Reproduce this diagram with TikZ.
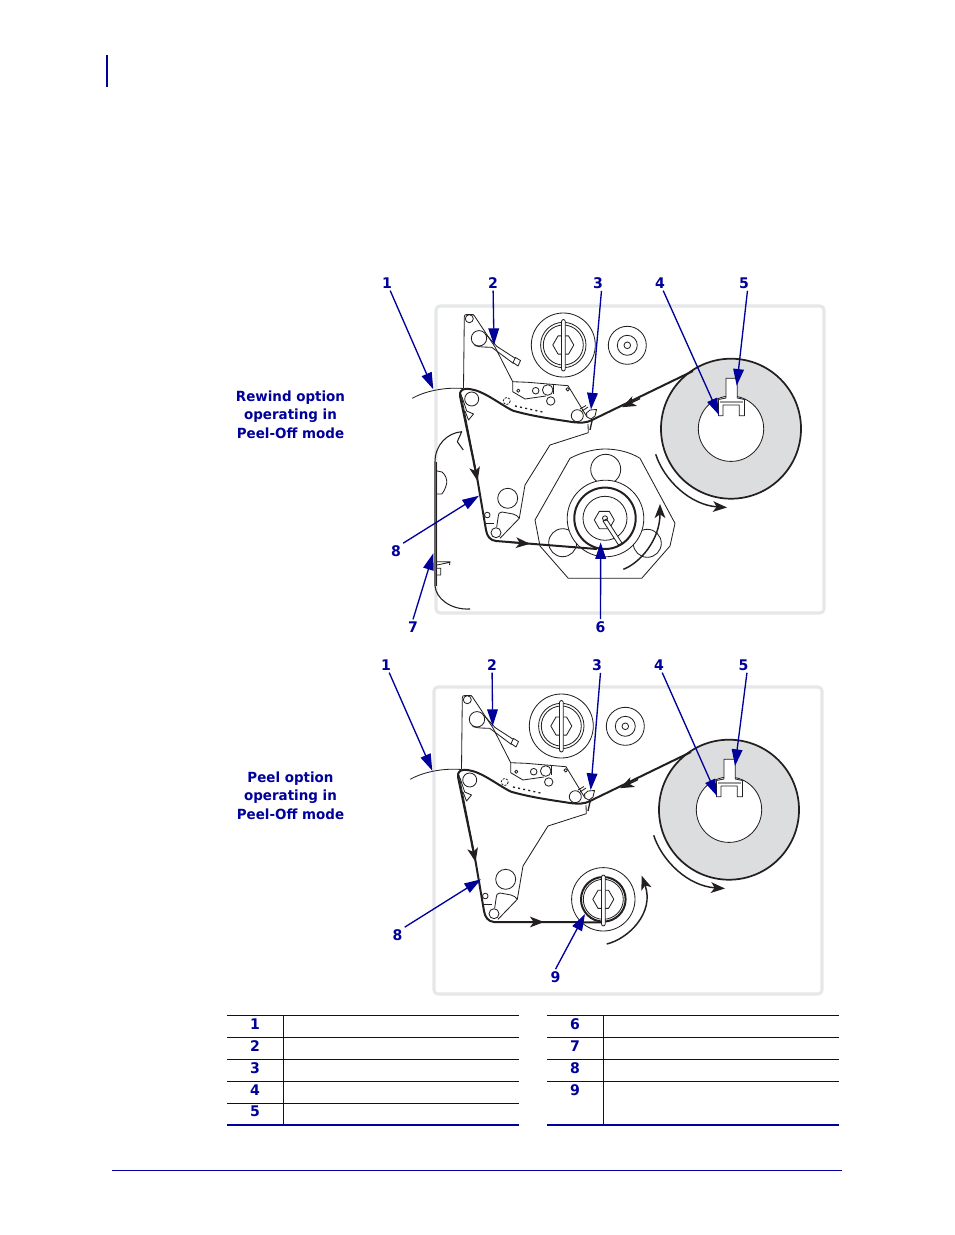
\documentclass[tikz,border=0pt]{standalone}
\usepackage{fontspec}
\setmainfont{DejaVu Sans}
\newfontfamily\lblfont[FakeStretch=0.96]{DejaVu Sans Bold}
\usetikzlibrary{arrows.meta}
\definecolor{zblue}{HTML}{00009A}
\definecolor{zframe}{HTML}{E6E7E8}
\definecolor{zroll}{HTML}{DCDDDF}
\definecolor{zink}{HTML}{231F20}
\tikzset{
  thinln/.style={draw=zink,line width=.62pt,line join=round},
  webln/.style={draw=zink,line width=1.5pt,line join=round},
  webtip/.style={draw=zink,line width=1.1pt,-{Stealth[length=10.5pt,width=8pt,inset=2.8pt]}},
  lead/.style={draw=zblue,line width=1pt,-{Stealth[length=12.5pt,width=8pt,inset=0pt]}},
  num/.style={text=zblue,font=\lblfont\fontsize{11}{12}\selectfont,inner sep=1.5pt},
  cap3/.style={text=zblue,font=\lblfont\fontsize{10.5}{13.8}\selectfont,align=center,inner sep=0pt},
  tbl/.style={draw=zblue,line width=.75pt},
  tblb/.style={draw=zblue,line width=1.5pt},
  frameln/.style={draw=zframe,line width=2.3pt,rounded corners=3pt},
}
\newcommand{\zhex}[3]{\draw[thinln,shift={(#1,#2)}] (0:#3) -- (60:#3) -- (120:#3) -- (180:#3) -- (240:#3) -- (300:#3) -- cycle;}
\newcommand{\zcirc}[3]{\draw[thinln] (#1,#2) circle[radius=#3];}
\newcommand{\zmech}{%
  \draw[frameln] (436,306) rectangle (824,613);
  % arm plate
  \draw[thinln] (463.5,388) -- (464.3,317) .. controls (464.3,315) and (465,314.5) .. (467,314.5) -- (473,314.5) .. controls (474,314.5) and (474,315) .. (474.5,316) -- (495,347) -- (512.7,381.7) -- (528,382.3) -- (568,385.7) -- (587,417);
  \zcirc{469.3}{318.7}{4}
  % tension lever
  \zcirc{479}{338.3}{7.7}
  \draw[thinln] (474.5,345.5) .. controls (480,347.5) and (487,347) .. (491.7,347.3) -- (513.5,363.5) (486.5,335) -- (497,346.5) -- (515.5,358.5);
  \draw[thinln,fill=white] (513,362.5) -- (518,366) -- (520.5,360.5) -- (515.5,357.5) -- cycle;
  % plate
  \draw[thinln] (512.7,381.7) -- (512.7,391.7) -- (525,399) -- (546,396);
  \zcirc{518.3}{390.7}{1.6}
  \zcirc{535.7}{390.7}{3.3}
  \zcirc{547.7}{390}{5.3}
  \draw[thinln] (553,385) -- (553,394);
  \zcirc{550.7}{401}{4.2}
  \zcirc{567.7}{389.3}{1.7}
  \zcirc{577.3}{415.7}{6}
  \draw[thinln,dashed,dash pattern=on 1.6pt off 1pt] (506.7,401) circle[radius=3.5];
  \draw[thinln,line width=1pt,dash pattern=on 1.5pt off 2.4pt] (515,406) -- (545,412.5);
  \draw[thinln] (580,409) -- (586,405.5) (582,411) -- (588,407);
  % peel bar
  \draw[thinln,fill=white] (590,410) -- (596.5,409.5) -- (595,416) -- (591,419) -- (587,417) -- (586.5,413) -- cycle;
  \draw[thinln,line width=1pt] (592,421) -- (590,430);
  % main side plate
  \draw[thinln] (588,424) -- (588.3,432.7) -- (550,445) -- (525,485) -- (519.3,518.3) -- (500,538.3);
  \draw[thinln] (519.3,518.3) .. controls (518,516) and (516,515) .. (513,514) -- (502,512) .. controls (499,512) and (498.5,514) .. (498.3,516) -- (496.7,527);
  \zcirc{507.7}{498.3}{10}
  \zcirc{496}{532.7}{5}
  \zcirc{487.3}{515}{2.8}
  \draw[thinln] (485,523) -- (494,523);
  % peel roller and diamond
  \zcirc{471.7}{399}{7}
  \draw[thinln] (462,397) -- (466.7,411) -- (473.5,414) -- (468.5,420) -- (465,411);
  \draw[thinln] (461,394) -- (476,470);
  % outer roll
  \fill[zroll] (731,428.7) circle[radius=70];
  \draw[zink,line width=1.3pt] (731,428.7) circle[radius=70];
  \draw[thinln,fill=white] (731,428.7) circle[radius=32.7];
  \draw[thinln,fill=white] (718.5,415.7) -- (718.5,399.5) -- (726,398) -- (726,378.3) -- (737.3,378.3) -- (737.3,398) -- (744.5,399.5) -- (744.5,415.7) -- (739.3,415.7) -- (739.3,405) -- (723,405) -- (723,415.7) -- cycle;
  \fill[zroll!70!black] (720,400.5) -- (743,400.5) -- (743,403) -- (720,403) -- cycle;
  % rear hub
  \zcirc{563.3}{345}{32}
  \zcirc{563.3}{345}{22.7}
  \zcirc{563.3}{345}{20}
  \zhex{563.3}{345}{10.5}
  \draw[thinln,fill=white,rounded corners=1.5pt] (561.5,319.5) rectangle (565.3,371);
  \zcirc{627.3}{345.3}{19}
  \zcirc{627.3}{345.3}{10}
  \zcirc{627.3}{345.3}{3.3}
  % web
  \draw[thinln] (412.3,398.3) .. controls (425,391) and (445,387) .. (463.3,388.5);
  \draw[webln] (693,371) -- (592,420) .. controls (587,423) and (580,423) .. (572,422) .. controls (560,420) and (535,417) .. (513,410.7) .. controls (505,407) and (490,396) .. (480,392) .. controls (473,389) and (466,388) .. (463,389.5) .. controls (460,391) and (459.5,394) .. (460,396) -- (477.5,480) -- (486,530) .. controls (487,536) and (490,540.5) .. (496,541);
  \draw[webtip] (640,398.5) -- (622,407.2);
  \draw[webtip] (473.5,462) -- (477.6,481);
  \draw[zink,line width=1.1pt,-{Stealth[length=10.5pt,width=8pt,inset=2.8pt]}] (655.7,454.3) .. controls (664,480) and (690,505) .. (727,507.5);
}
\begin{document}
\begin{tikzpicture}[x=0.75pt,y=-0.75pt]
\path[use as bounding box,fill=white] (0,0) rectangle (954,1235);
% page furniture
\draw[zblue,line width=1.5pt] (107,55) -- (107,87);
\draw[zblue,line width=.6pt] (112,1170.5) -- (842,1170.5);

% --- upper diagram ---
\begin{scope}
\draw[thinln] (570,458.3) .. controls (582,452) and (595,449) .. (605,449) .. controls (617,449) and (630,452) .. (640,458.3) -- (675,523.3) -- (670,546) -- (641.7,578.3) -- (568.3,578.3) -- (540,546) -- (535,520) -- cycle;
\zcirc{605.7}{469.3}{15}
\zcirc{562.7}{542.7}{14}
\zcirc{647.3}{543.3}{14}
\draw[thinln,fill=white] (605.5,518.5) circle[radius=38.3];
\zmech
\draw[zink,line width=1.5pt] (605,518.3) circle[radius=30.7];
\zcirc{605}{518.3}{22}
\zhex{604.3}{520}{10}
\draw[thinln,fill=white] (603,521) -- (606.5,519) -- (622,543) -- (618.5,545) -- cycle;
\zcirc{605}{518.3}{2.5}
\draw[webln] (496,541) -- (597,549);
\draw[webtip] (510,542.2) -- (530,543.8);
\draw[zink,line width=1.1pt,-{Stealth[length=10.5pt,width=8pt,inset=2.8pt]}] (623.3,569.3) .. controls (640,563) and (660,540) .. (660,504);
% cover
\draw[thinln,line width=.8pt] (463.3,450) -- (457.3,441.7) -- (461.7,431.7) .. controls (447,433) and (435,445) .. (435,462) -- (435,586) .. controls (436,598) and (450,610) .. (470,609);
\draw[thinln] (436.3,462) -- (436.3,586);
\draw[thinln] (436,470.7) -- (442,472) .. controls (446,475) and (447,480) .. (446.7,483) .. controls (446,488) and (443,493) .. (441.7,494) -- (436,494);
\draw[thinln] (436,561.7) -- (450,561.7) -- (449.5,565) (449,562.5) -- (437,565) (436,568.3) -- (440.7,568.3) -- (440.7,575) -- (436,575);
\end{scope}

\node[cap3] (capA) at (290.5,414.5) {Rewind option\\operating in\\Peel-Off mode};

\node[num] (a1) at (387,283) {1};
\node[num] (a2) at (493,283) {2};
\node[num] (a3) at (598,283) {3};
\node[num] (a4) at (660,283) {4};
\node[num] (a5) at (744,283) {5};
\node[num] (a6) at (600.5,627) {6};
\node[num] (a7) at (413,627) {7};
\node[num] (a8) at (396,551) {8};
\coordinate (ta1) at (433.3,389.3);
\coordinate (ta2) at (494,345);
\coordinate (ta3) at (591,409.5);
\coordinate (ta4) at (719,415);
\coordinate (ta5) at (736.7,385.7);
\coordinate (ta6) at (600.7,542.3);
\coordinate (ta7) at (433.3,553.3);
\coordinate (ta8) at (479,495.7);
\draw[lead] ([xshift=2.4pt]a1.south) -- (ta1);
\draw[lead] (a2) -- (ta2);
\draw[lead] ([xshift=2.6pt]a3.south) -- (ta3);
\draw[lead] ([xshift=2.4pt]a4.south) -- (ta4);
\draw[lead] ([xshift=2.6pt]a5.south) -- (ta5);
\draw[lead] (a6) -- (ta6);
\draw[lead] (a7.north) -- (ta7);
\draw[lead] (a8.north east) -- (ta8);

% --- lower diagram ---
\begin{scope}[shift={(-2,381)}]
\zmech
\draw[webln] (496,541) -- (605,541.3);
\draw[webtip] (525,541) -- (546,541);
\zcirc{605.3}{518.3}{31.7}
\draw[zink,line width=1.5pt] (605.3,518.3) circle[radius=22.3];
\zcirc{605.3}{518.3}{20}
\zhex{605.3}{518.3}{10.5}
\draw[thinln,fill=white,rounded corners=1.5pt] (603.5,494) rectangle (607.2,545);
\draw[zink,line width=1.1pt,-{Stealth[length=10.5pt,width=8pt,inset=2.8pt]}] (608.7,563) .. controls (630,558) and (657,532) .. (643.7,494.7);
\end{scope}

\node[cap3] (capB) at (290.5,795.5) {Peel option\\operating in\\Peel-Off mode};

\node[num] (b1) at (386,665) {1};
\node[num] (b2) at (492,665) {2};
\node[num] (b3) at (597,665) {3};
\node[num] (b4) at (659,665) {4};
\node[num] (b5) at (743.5,665) {5};
\node[num] (b8) at (397.5,935) {8};
\node[num] (b9) at (555.5,977) {9};
\coordinate (tb1) at (432.3,770.7);
\coordinate (tb2) at (492.7,726);
\coordinate (tb3) at (590.7,790);
\coordinate (tb4) at (717,796);
\coordinate (tb5) at (735,766);
\coordinate (tb8) at (481,879.3);
\coordinate (tb9) at (585,914);
\draw[lead] ([xshift=2.4pt]b1.south) -- (tb1);
\draw[lead] (b2) -- (tb2);
\draw[lead] ([xshift=2.6pt]b3.south) -- (tb3);
\draw[lead] ([xshift=2.4pt]b4.south) -- (tb4);
\draw[lead] ([xshift=2.6pt]b5.south) -- (tb5);
\draw[lead] (b8.north east) -- (tb8);
\draw[lead] (b9.north) -- (tb9);

% --- tables ---
\foreach \y in {1015.5,1037.5,1059.5,1081.5,1103} {\draw[tbl] (227,\y) -- (519,\y);}
\foreach \y in {1015.5,1037.5,1059.5,1081.5} {\draw[tbl] (547,\y) -- (839,\y);}
\draw[tblb] (227,1125) -- (519,1125);
\draw[tblb] (547,1125) -- (839,1125);
\draw[tbl] (283.5,1015.5) -- (283.5,1125);
\draw[tbl] (603.5,1015.5) -- (603.5,1125);
\node[num] (r1) at (255,1024.5) {1};
\node[num] (r2) at (255,1046.5) {2};
\node[num] (r3) at (255,1068.5) {3};
\node[num] (r4) at (255,1090.5) {4};
\node[num] (r5) at (255,1111.5) {5};
\node[num] (r6) at (575,1024.5) {6};
\node[num] (r7) at (575,1046.5) {7};
\node[num] (r8) at (575,1068.5) {8};
\node[num] (r9) at (575,1090.5) {9};
\end{tikzpicture}
\end{document}
